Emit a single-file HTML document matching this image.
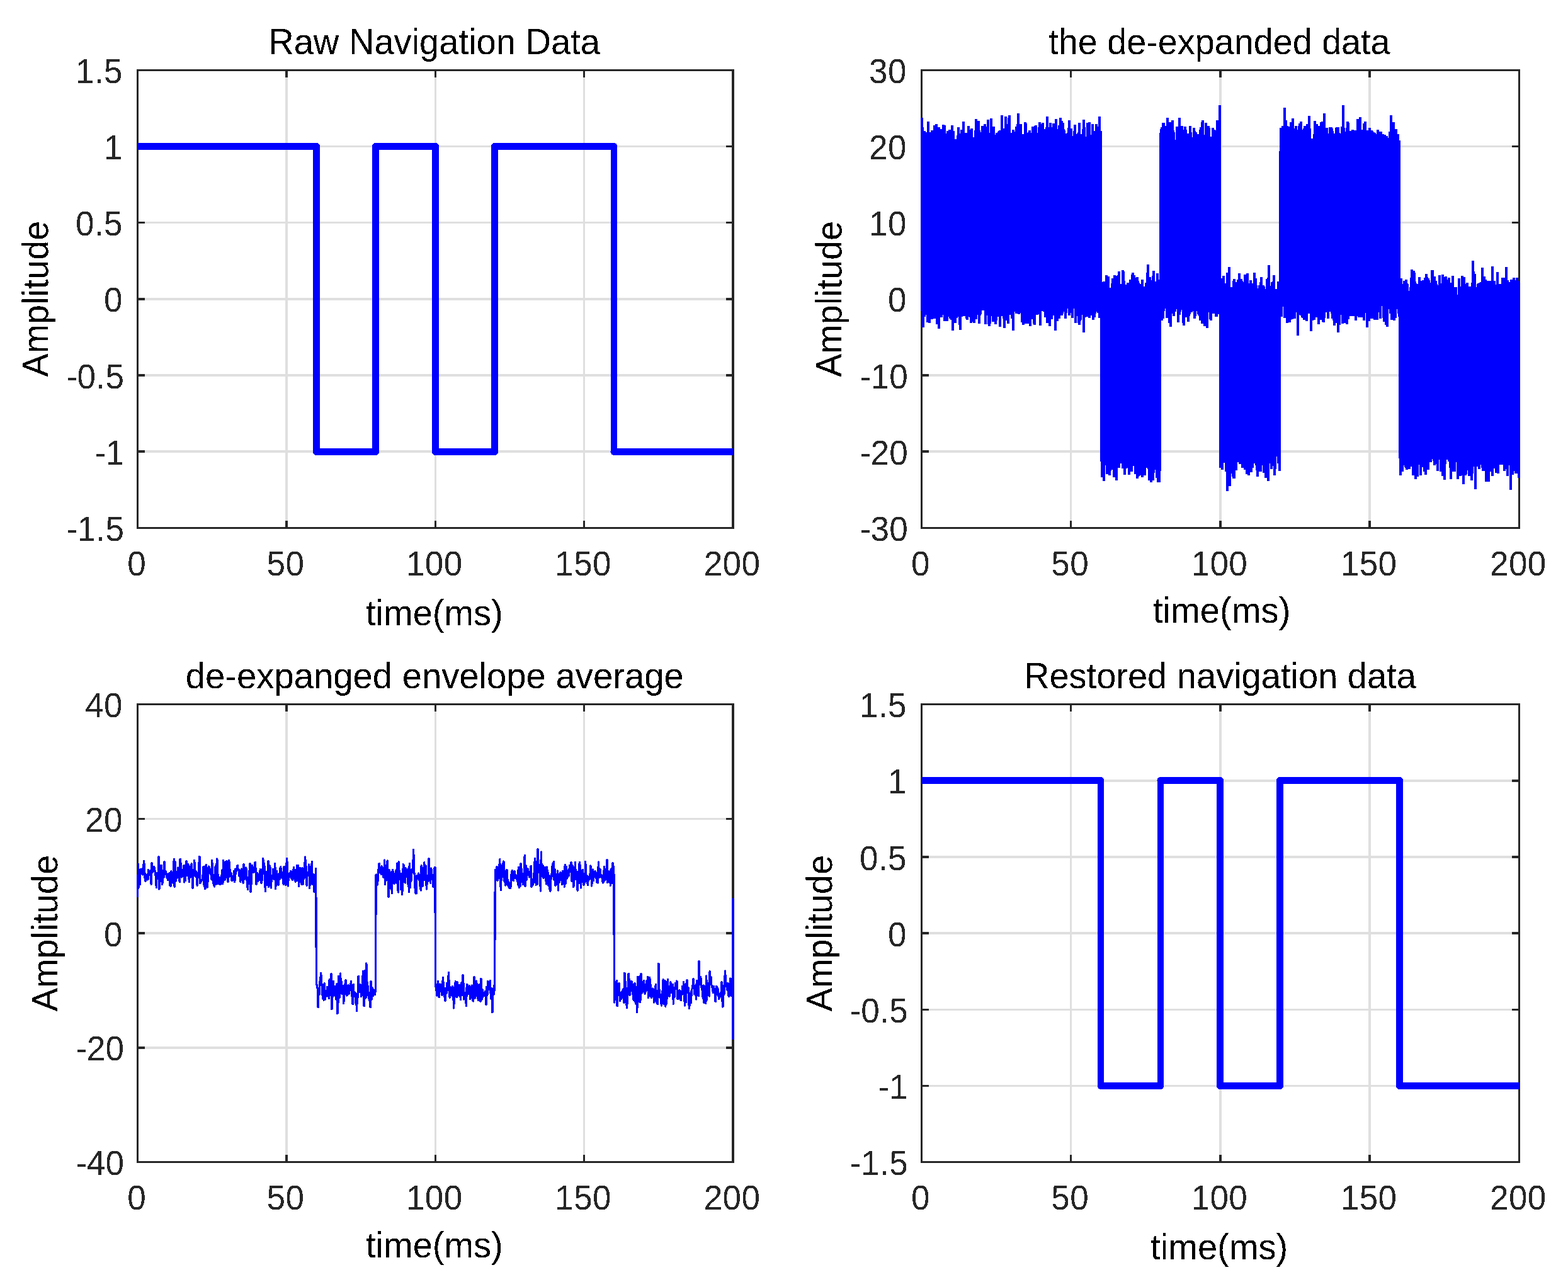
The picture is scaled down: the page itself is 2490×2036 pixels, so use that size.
<!DOCTYPE html>
<html lang="en">
<head>
<meta charset="utf-8">
<title>Navigation data de-expansion</title>
<style>
html,body{margin:0;padding:0;background:#fff;}
body{width:2490px;height:2036px;overflow:hidden;}
svg{display:block;font-family:'Liberation Sans', 'DejaVu Sans', sans-serif;}
</style>
</head>
<body>
<svg width="2490" height="2036" viewBox="0 0 2490 2036">
<rect width="2490" height="2036" fill="#fff"/>
<defs><clipPath id="c0"><rect x="218" y="111" width="947" height="728"/></clipPath><clipPath id="c1"><rect x="1462" y="111" width="952" height="728"/></clipPath><clipPath id="c2"><rect x="217" y="1118" width="949" height="728"/></clipPath><clipPath id="c3"><rect x="1463" y="1118" width="950" height="728"/></clipPath><filter id="hard" filterUnits="userSpaceOnUse" x="0" y="0" width="2490" height="2036" color-interpolation-filters="sRGB"><feComponentTransfer><feFuncA type="discrete" tableValues="0 1"/></feComponentTransfer></filter></defs>
<g shape-rendering="crispEdges"><path fill="#dfdfdf" d="M453 110h4v730h-4zM690 110h3v730h-3zM926 110h3v730h-3zM217 715h949v4h-949zM217 594h949v4h-949zM217 473h949v4h-949zM217 352h949v3h-949zM217 231h949v3h-949z"/><path fill="#262626" d="M217 110h3v730h-3zM1162 110h4v730h-4zM217 110h949v3h-949zM217 837h949v3h-949zM453 110h4v13h-4zM453 827h4v13h-4zM690 110h3v13h-3zM690 827h3v13h-3zM926 110h3v13h-3zM926 827h3v13h-3zM217 715h13v4h-13zM1153 715h13v4h-13zM217 594h13v4h-13zM1153 594h13v4h-13zM217 473h13v4h-13zM1153 473h13v4h-13zM217 352h13v3h-13zM1153 352h13v3h-13zM217 231h13v3h-13zM1153 231h13v3h-13z"/><g clip-path="url(#c0)"><g fill="none" stroke="#0000ff" stroke-linecap="round"><path stroke-width="11" d="M198.59 232.5H502.5"/><path stroke-width="11" d="M502.5 232.5V717.5"/><path stroke-width="11" d="M502.5 717.5H596.5"/><path stroke-width="11" d="M596.5 717.5V232.5"/><path stroke-width="11" d="M596.5 232.5H691.5"/><path stroke-width="11" d="M691.5 232.5V717.5"/><path stroke-width="11" d="M691.5 717.5H785.5"/><path stroke-width="11" d="M785.5 717.5V232.5"/><path stroke-width="11" d="M785.5 232.5H975"/><path stroke-width="10" d="M975 232.5V717.5"/><path stroke-width="11" d="M975 717.5H1184.03"/></g></g></g>
<g shape-rendering="crispEdges"><path fill="#dfdfdf" d="M1699 110h3v730h-3zM1936 110h4v730h-4zM2173 110h4v730h-4zM1462 715h952v4h-952zM1462 594h952v4h-952zM1462 473h952v4h-952zM1462 352h952v3h-952zM1462 231h952v3h-952z"/><path fill="#262626" d="M1462 110h3v730h-3zM2411 110h3v730h-3zM1462 110h952v3h-952zM1462 837h952v3h-952zM1699 110h3v13h-3zM1699 827h3v13h-3zM1936 110h4v13h-4zM1936 827h4v13h-4zM2173 110h4v13h-4zM2173 827h4v13h-4zM1462 715h13v4h-13zM2401 715h13v4h-13zM1462 594h13v4h-13zM2401 594h13v4h-13zM1462 473h13v4h-13zM2401 473h13v4h-13zM1462 352h13v3h-13zM2401 352h13v3h-13zM1462 231h13v3h-13zM2401 231h13v3h-13z"/><g clip-path="url(#c1)"><path d="M1463.5 188V188H1464.5V203H1465.5V228H1466.5V214H1467.5V209H1468.5V219H1469.5V229H1470.5V211H1471.5V227H1472.5V214H1473.5V194H1474.5V220H1475.5V231H1476.5V211H1477.5V214H1478.5V232H1479.5V208H1480.5V225H1481.5V222H1482.5V216H1483.5V200H1484.5V218H1485.5V224H1486.5V198H1487.5V220H1488.5V210H1489.5V219H1490.5V203H1491.5V212H1492.5V206H1493.5V207H1494.5V218H1495.5V206H1496.5V227H1497.5V199H1498.5V228H1499.5V200H1500.5V222H1501.5V213H1502.5V219H1503.5V215H1504.5V209H1505.5V216H1506.5V233H1507.5V207H1508.5V222H1509.5V214H1510.5V223H1511.5V200H1512.5V209H1513.5V209H1514.5V233H1515.5V222H1516.5V229H1517.5V230H1518.5V223H1519.5V222H1520.5V216H1521.5V203H1522.5V215H1523.5V223H1524.5V217H1525.5V213H1526.5V207H1527.5V215H1528.5V214H1529.5V194H1530.5V225H1531.5V222H1532.5V221H1533.5V212H1534.5V221H1535.5V212H1536.5V227H1537.5V201H1538.5V231H1539.5V220H1540.5V207H1541.5V220H1542.5V205H1543.5V221H1544.5V229H1545.5V223H1546.5V219H1547.5V230H1548.5V208H1549.5V190H1550.5V210H1551.5V202H1552.5V217H1553.5V193H1554.5V208H1555.5V215H1556.5V211H1557.5V220H1558.5V212H1559.5V201H1560.5V215H1561.5V215H1562.5V214H1563.5V198H1564.5V232H1565.5V228H1566.5V202H1567.5V203H1568.5V191H1569.5V218H1570.5V212H1571.5V228H1572.5V219H1573.5V189H1574.5V233H1575.5V210H1576.5V213H1577.5V202H1578.5V232H1579.5V215H1580.5V224H1581.5V233H1582.5V212H1583.5V229H1584.5V222H1585.5V210H1586.5V209H1587.5V208H1588.5V212H1589.5V219H1590.5V184H1591.5V209H1592.5V205H1593.5V205H1594.5V214H1595.5V206H1596.5V186H1597.5V225H1598.5V198H1599.5V203H1600.5V222H1601.5V188H1602.5V184H1603.5V231H1604.5V212H1605.5V229H1606.5V219H1607.5V225H1608.5V207H1609.5V225H1610.5V210H1611.5V220H1612.5V233H1613.5V202H1614.5V203H1615.5V198H1616.5V181H1617.5V207H1618.5V221H1619.5V205H1620.5V198H1621.5V218H1622.5V220H1623.5V231H1624.5V214H1625.5V227H1626.5V217H1627.5V195H1628.5V197H1629.5V217H1630.5V212H1631.5V238H1632.5V240H1633.5V211H1634.5V208H1635.5V221H1636.5V218H1637.5V212H1638.5V213H1639.5V202H1640.5V227H1641.5V215H1642.5V238H1643.5V201H1644.5V200H1645.5V212H1646.5V227H1647.5V214H1648.5V212H1649.5V203H1650.5V195H1651.5V222H1652.5V207H1653.5V213H1654.5V198H1655.5V196H1656.5V211H1657.5V206H1658.5V226H1659.5V206H1660.5V217H1661.5V203H1662.5V186H1663.5V219H1664.5V220H1665.5V203H1666.5V210H1667.5V196H1668.5V208H1669.5V208H1670.5V231H1671.5V203H1672.5V197H1673.5V205H1674.5V212H1675.5V219H1676.5V190H1677.5V213H1678.5V206H1679.5V211H1680.5V228H1681.5V200H1682.5V208H1683.5V188H1684.5V199H1685.5V193H1686.5V216H1687.5V196H1688.5V206H1689.5V208H1690.5V228H1691.5V230H1692.5V219H1693.5V213H1694.5V228H1695.5V212H1696.5V204H1697.5V192H1698.5V217H1699.5V216H1700.5V205H1701.5V218H1702.5V217H1703.5V220H1704.5V227H1705.5V209H1706.5V199H1707.5V214H1708.5V218H1709.5V216H1710.5V223H1711.5V213H1712.5V211H1713.5V196H1714.5V225H1715.5V214H1716.5V227H1717.5V214H1718.5V217H1719.5V206H1720.5V191H1721.5V203H1722.5V225H1723.5V222H1724.5V218H1725.5V226H1726.5V196H1727.5V201H1728.5V206H1729.5V195H1730.5V219H1731.5V236H1732.5V215H1733.5V220H1734.5V198H1735.5V212H1736.5V223H1737.5V209H1738.5V223H1739.5V224H1740.5V198H1741.5V210H1742.5V202H1743.5V215H1744.5V222H1745.5V186H1746.5V234H1747.5V209H1748.5V458H1749.5V449H1750.5V464H1751.5V472H1752.5V448H1753.5V459H1754.5V455H1755.5V458H1756.5V438H1757.5V451H1758.5V462H1759.5V440H1760.5V458H1761.5V470H1762.5V477H1763.5V458H1764.5V459H1765.5V451H1766.5V443H1767.5V448H1768.5V471H1769.5V438H1770.5V452H1771.5V439H1772.5V442H1773.5V459H1774.5V452H1775.5V438H1776.5V432H1777.5V458H1778.5V467H1779.5V452H1780.5V468H1781.5V458H1782.5V430H1783.5V432H1784.5V447H1785.5V470H1786.5V453H1787.5V464H1788.5V454H1789.5V470H1790.5V450H1791.5V452H1792.5V450H1793.5V468H1794.5V445H1795.5V473H1796.5V472H1797.5V437H1798.5V434H1799.5V455H1800.5V438H1801.5V463H1802.5V459H1803.5V447H1804.5V442H1805.5V441H1806.5V447H1807.5V450H1808.5V475H1809.5V452H1810.5V460H1811.5V457H1812.5V459H1813.5V445H1814.5V465H1815.5V467H1816.5V456H1817.5V464H1818.5V463H1819.5V450H1820.5V463H1821.5V434H1822.5V421H1823.5V466H1824.5V473H1825.5V441H1826.5V462H1827.5V455H1828.5V450H1829.5V446H1830.5V439H1831.5V431H1832.5V459H1833.5V455H1834.5V448H1835.5V458H1836.5V455H1837.5V435H1838.5V455H1839.5V445H1840.5V453H1841.5V463H1842.5V212H1843.5V206H1844.5V203H1845.5V229H1846.5V196H1847.5V196H1848.5V213H1849.5V210H1850.5V208H1851.5V201H1852.5V201H1853.5V188H1854.5V210H1855.5V207H1856.5V196H1857.5V195H1858.5V208H1859.5V217H1860.5V205H1861.5V192H1862.5V208H1863.5V211H1864.5V223H1865.5V224H1866.5V228H1867.5V224H1868.5V202H1869.5V217H1870.5V216H1871.5V214H1872.5V188H1873.5V203H1874.5V206H1875.5V216H1876.5V201H1877.5V213H1878.5V218H1879.5V220H1880.5V207H1881.5V202H1882.5V207H1883.5V215H1884.5V216H1885.5V226H1886.5V213H1887.5V218H1888.5V218H1889.5V201H1890.5V211H1891.5V225H1892.5V226H1893.5V219H1894.5V219H1895.5V204H1896.5V209H1897.5V227H1898.5V211H1899.5V226H1900.5V229H1901.5V214H1902.5V231H1903.5V224H1904.5V222H1905.5V207H1906.5V203H1907.5V225H1908.5V195H1909.5V192H1910.5V220H1911.5V216H1912.5V215H1913.5V217H1914.5V196H1915.5V208H1916.5V204H1917.5V216H1918.5V201H1919.5V204H1920.5V225H1921.5V223H1922.5V220H1923.5V218H1924.5V221H1925.5V204H1926.5V236H1927.5V207H1928.5V220H1929.5V215H1930.5V223H1931.5V208H1932.5V192H1933.5V230H1934.5V219H1935.5V224H1936.5V168H1937.5V456H1938.5V458H1939.5V443H1940.5V458H1941.5V450H1942.5V439H1943.5V455H1944.5V469H1945.5V451H1946.5V464H1947.5V473H1948.5V434H1949.5V453H1950.5V456H1951.5V425H1952.5V460H1953.5V459H1954.5V457H1955.5V470H1956.5V474H1957.5V458H1958.5V447H1959.5V444H1960.5V455H1961.5V459H1962.5V449H1963.5V456H1964.5V468H1965.5V445H1966.5V448H1967.5V435H1968.5V449H1969.5V461H1970.5V444H1971.5V447H1972.5V449H1973.5V466H1974.5V452H1975.5V451H1976.5V437H1977.5V487H1978.5V460H1979.5V454H1980.5V435H1981.5V457H1982.5V458H1983.5V462H1984.5V451H1985.5V446H1986.5V461H1987.5V451H1988.5V481H1989.5V460H1990.5V462H1991.5V434H1992.5V471H1993.5V443H1994.5V454H1995.5V466H1996.5V465H1997.5V463H1998.5V459H1999.5V454H2000.5V462H2001.5V449H2002.5V441H2003.5V462H2004.5V459H2005.5V454H2006.5V456H2007.5V460H2008.5V470H2009.5V462H2010.5V462H2011.5V444H2012.5V444H2013.5V442H2014.5V422H2015.5V455H2016.5V459H2017.5V461H2018.5V461H2019.5V449H2020.5V458H2021.5V448H2022.5V438H2023.5V479H2024.5V468H2025.5V464H2026.5V460H2027.5V470H2028.5V474H2029.5V448H2030.5V457H2031.5V474H2032.5V241H2033.5V204H2034.5V216H2035.5V205H2036.5V201H2037.5V220H2038.5V210H2039.5V172H2040.5V206H2041.5V192H2042.5V230H2043.5V201H2044.5V211H2045.5V226H2046.5V202H2047.5V212H2048.5V219H2049.5V195H2050.5V204H2051.5V198H2052.5V189H2053.5V217H2054.5V205H2055.5V221H2056.5V213H2057.5V201H2058.5V215H2059.5V224H2060.5V215H2061.5V207H2062.5V201H2063.5V197H2064.5V205H2065.5V194H2066.5V207H2067.5V209H2068.5V209H2069.5V214H2070.5V205H2071.5V201H2072.5V206H2073.5V215H2074.5V202H2075.5V198H2076.5V215H2077.5V227H2078.5V185H2079.5V205H2080.5V224H2081.5V229H2082.5V221H2083.5V227H2084.5V230H2085.5V225H2086.5V214H2087.5V193H2088.5V209H2089.5V218H2090.5V198H2091.5V215H2092.5V212H2093.5V223H2094.5V201H2095.5V215H2096.5V212H2097.5V195H2098.5V212H2099.5V194H2100.5V219H2101.5V215H2102.5V181H2103.5V206H2104.5V217H2105.5V214H2106.5V204H2107.5V221H2108.5V213H2109.5V222H2110.5V214H2111.5V203H2112.5V218H2113.5V203H2114.5V205H2115.5V209H2116.5V227H2117.5V213H2118.5V228H2119.5V214H2120.5V222H2121.5V204H2122.5V203H2123.5V216H2124.5V203H2125.5V212H2126.5V225H2127.5V222H2128.5V217H2129.5V213H2130.5V202H2131.5V207H2132.5V168H2133.5V204H2134.5V221H2135.5V222H2136.5V210H2137.5V218H2138.5V204H2139.5V194H2140.5V196H2141.5V222H2142.5V219H2143.5V209H2144.5V226H2145.5V224H2146.5V221H2147.5V207H2148.5V232H2149.5V214H2150.5V228H2151.5V208H2152.5V215H2153.5V223H2154.5V238H2155.5V190H2156.5V212H2157.5V193H2158.5V215H2159.5V187H2160.5V222H2161.5V214H2162.5V207H2163.5V226H2164.5V226H2165.5V197H2166.5V213H2167.5V194H2168.5V218H2169.5V210H2170.5V224H2171.5V208H2172.5V217H2173.5V220H2174.5V204H2175.5V220H2176.5V221H2177.5V208H2178.5V209H2179.5V229H2180.5V211H2181.5V214H2182.5V212H2183.5V227H2184.5V214H2185.5V221H2186.5V225H2187.5V207H2188.5V225H2189.5V210H2190.5V214H2191.5V222H2192.5V210H2193.5V223H2194.5V236H2195.5V214H2196.5V224H2197.5V232H2198.5V215H2199.5V227H2200.5V232H2201.5V217H2202.5V225H2203.5V222H2204.5V227H2205.5V220H2206.5V210H2207.5V228H2208.5V184H2209.5V218H2210.5V223H2211.5V222H2212.5V195H2213.5V207H2214.5V220H2215.5V218H2216.5V206H2217.5V230H2218.5V214H2219.5V214H2220.5V224H2221.5V224H2222.5V446H2223.5V470H2224.5V443H2225.5V453H2226.5V452H2227.5V469H2228.5V453H2229.5V447H2230.5V460H2231.5V453H2232.5V445H2233.5V451H2234.5V452H2235.5V464H2236.5V463H2237.5V476H2238.5V464H2239.5V457H2240.5V442H2241.5V429H2242.5V459H2243.5V453H2244.5V431H2245.5V434H2246.5V448H2247.5V451H2248.5V458H2249.5V459H2250.5V453H2251.5V452H2252.5V459H2253.5V441H2254.5V457H2255.5V473H2256.5V447H2257.5V456H2258.5V456H2259.5V446H2260.5V451H2261.5V454H2262.5V442H2263.5V452H2264.5V436H2265.5V441H2266.5V472H2267.5V443H2268.5V446H2269.5V466H2270.5V462H2271.5V467H2272.5V450H2273.5V430H2274.5V430H2275.5V465H2276.5V463H2277.5V440H2278.5V458H2279.5V447H2280.5V452H2281.5V463H2282.5V455H2283.5V454H2284.5V462H2285.5V438H2286.5V464H2287.5V451H2288.5V455H2289.5V453H2290.5V437H2291.5V459H2292.5V441H2293.5V480H2294.5V468H2295.5V440H2296.5V478H2297.5V468H2298.5V445H2299.5V469H2300.5V442H2301.5V453H2302.5V463H2303.5V460H2304.5V450H2305.5V460H2306.5V439H2307.5V457H2308.5V459H2309.5V457H2310.5V462H2311.5V457H2312.5V472H2313.5V477H2314.5V471H2315.5V469H2316.5V443H2317.5V465H2318.5V459H2319.5V477H2320.5V456H2321.5V439H2322.5V472H2323.5V455H2324.5V441H2325.5V473H2326.5V452H2327.5V454H2328.5V481H2329.5V450H2330.5V470H2331.5V469H2332.5V464H2333.5V456H2334.5V458H2335.5V456H2336.5V461H2337.5V450H2338.5V415H2339.5V432H2340.5V458H2341.5V436H2342.5V470H2343.5V481H2344.5V458H2345.5V457H2346.5V452H2347.5V451H2348.5V466H2349.5V450H2350.5V479H2351.5V449H2352.5V462H2353.5V426H2354.5V453H2355.5V472H2356.5V440H2357.5V456H2358.5V445H2359.5V466H2360.5V451H2361.5V447H2362.5V470H2363.5V464H2364.5V453H2365.5V447H2366.5V467H2367.5V462H2368.5V466H2369.5V424H2370.5V460H2371.5V453H2372.5V447H2373.5V471H2374.5V465H2375.5V453H2376.5V476H2377.5V433H2378.5V453H2379.5V452H2380.5V460H2381.5V459H2382.5V467H2383.5V452H2384.5V464H2385.5V442H2386.5V460H2387.5V442H2388.5V445H2389.5V447H2390.5V449H2391.5V425H2392.5V470H2393.5V446H2394.5V463H2395.5V449H2396.5V461H2397.5V457H2398.5V450H2399.5V445H2400.5V461H2401.5V457H2402.5V446H2403.5V442H2404.5V466H2405.5V446H2406.5V471H2407.5V456H2408.5V442H2409.5V447H2410.5V447H2411.5V450H2412.5V757H2411.5V733H2410.5V750H2409.5V733H2408.5V746H2407.5V750H2406.5V729H2405.5V718H2404.5V744H2403.5V746H2402.5V752H2401.5V736H2400.5V750H2399.5V776H2398.5V737H2397.5V732H2396.5V729H2395.5V731H2394.5V754H2393.5V743H2392.5V729H2391.5V730H2390.5V736H2389.5V746H2388.5V733H2387.5V736H2386.5V734H2385.5V730H2384.5V730H2383.5V736H2382.5V731H2381.5V728H2380.5V723H2379.5V750H2378.5V734H2377.5V737H2376.5V749H2375.5V730H2374.5V742H2373.5V741H2372.5V722H2371.5V741H2370.5V754H2369.5V742H2368.5V734H2367.5V746H2366.5V747H2365.5V744H2364.5V763H2363.5V728H2362.5V729H2361.5V726H2360.5V763H2359.5V746H2358.5V744H2357.5V742H2356.5V734H2355.5V746H2354.5V741H2353.5V721H2352.5V736H2351.5V722H2350.5V734H2349.5V743H2348.5V735H2347.5V739H2346.5V732H2345.5V735H2344.5V729H2343.5V775H2342.5V739H2341.5V730H2340.5V737H2339.5V730H2338.5V750H2337.5V761H2336.5V730H2335.5V719H2334.5V747H2333.5V754H2332.5V737H2331.5V745H2330.5V732H2329.5V732H2328.5V751H2327.5V753H2326.5V744H2325.5V732H2324.5V767H2323.5V741H2322.5V753H2321.5V705H2320.5V745H2319.5V754H2318.5V736H2317.5V747H2316.5V726H2315.5V759H2314.5V732H2313.5V727H2312.5V730H2311.5V722H2310.5V747H2309.5V739H2308.5V745H2307.5V747H2306.5V746H2305.5V730H2304.5V759H2303.5V741H2302.5V726H2301.5V731H2300.5V719H2299.5V728H2298.5V718H2297.5V721H2296.5V715H2295.5V735H2294.5V760H2293.5V743H2292.5V744H2291.5V754H2290.5V731H2289.5V737H2288.5V747H2287.5V728H2286.5V716H2285.5V720H2284.5V722H2283.5V746H2282.5V727H2281.5V735H2280.5V724H2279.5V731H2278.5V737H2277.5V730H2276.5V727H2275.5V725H2274.5V709H2273.5V721H2272.5V732H2271.5V729H2270.5V730H2269.5V723H2268.5V744H2267.5V725H2266.5V727H2265.5V733H2264.5V752H2263.5V732H2262.5V747H2261.5V726H2260.5V740H2259.5V740H2258.5V735H2257.5V738H2256.5V753H2255.5V736H2254.5V733H2253.5V735H2252.5V734H2251.5V755H2250.5V736H2249.5V726H2248.5V759H2247.5V728H2246.5V749H2245.5V746H2244.5V753H2243.5V734H2242.5V737H2241.5V719H2240.5V739H2239.5V731H2238.5V743H2237.5V724H2236.5V729H2235.5V732H2234.5V744H2233.5V741H2232.5V740H2231.5V726H2230.5V732H2229.5V737H2228.5V730H2227.5V747H2226.5V737H2225.5V736H2224.5V753H2223.5V726H2222.5V501H2221.5V496H2220.5V478H2219.5V489H2218.5V489H2217.5V484H2216.5V503H2215.5V499H2214.5V507H2213.5V490H2212.5V482H2211.5V488H2210.5V506H2209.5V491H2208.5V496H2207.5V485H2206.5V489H2205.5V472H2204.5V489H2203.5V517H2202.5V477H2201.5V514H2200.5V495H2199.5V503H2198.5V509H2197.5V503H2196.5V482H2195.5V478H2194.5V482H2193.5V484H2192.5V504H2191.5V494H2190.5V488H2189.5V484H2188.5V489H2187.5V506H2186.5V486H2185.5V488H2184.5V499H2183.5V506H2182.5V491H2181.5V496H2180.5V498H2179.5V504H2178.5V503H2177.5V504H2176.5V479H2175.5V498H2174.5V508H2173.5V497H2172.5V485H2171.5V518H2170.5V494H2169.5V492H2168.5V495H2167.5V483H2166.5V507H2165.5V490H2164.5V493H2163.5V498H2162.5V502H2161.5V477H2160.5V496H2159.5V489H2158.5V502H2157.5V500H2156.5V490H2155.5V482H2154.5V488H2153.5V507H2152.5V489H2151.5V493H2150.5V493H2149.5V500H2148.5V499H2147.5V498H2146.5V494H2145.5V500H2144.5V487H2143.5V499H2142.5V498H2141.5V505H2140.5V499H2139.5V513H2138.5V486H2137.5V499H2136.5V511H2135.5V502H2134.5V491H2133.5V483H2132.5V512H2131.5V495H2130.5V498H2129.5V484H2128.5V484H2127.5V514H2126.5V509H2125.5V526H2124.5V475H2123.5V497H2122.5V483H2121.5V511H2120.5V502H2119.5V515H2118.5V507H2117.5V487H2116.5V504H2115.5V496H2114.5V489H2113.5V481H2112.5V493H2111.5V490H2110.5V490H2109.5V504H2108.5V490H2107.5V494H2106.5V482H2105.5V493H2104.5V489H2103.5V503H2102.5V510H2101.5V509H2100.5V504H2099.5V501H2098.5V491H2097.5V506H2096.5V492H2095.5V499H2094.5V513H2093.5V502H2092.5V487H2091.5V486H2090.5V502H2089.5V471H2088.5V502H2087.5V506H2086.5V492H2085.5V493H2084.5V507H2083.5V501H2082.5V524H2081.5V494H2080.5V489H2079.5V496H2078.5V493H2077.5V483H2076.5V494H2075.5V508H2074.5V479H2073.5V506H2072.5V492H2071.5V506H2070.5V472H2069.5V503H2068.5V502H2067.5V480H2066.5V499H2065.5V474H2064.5V480H2063.5V490H2062.5V498H2061.5V531H2060.5V484H2059.5V494H2058.5V476H2057.5V473H2056.5V504H2055.5V484H2054.5V481H2053.5V499H2052.5V505H2051.5V479H2050.5V495H2049.5V506H2048.5V510H2047.5V476H2046.5V504H2045.5V487H2044.5V511H2043.5V499H2042.5V497H2041.5V483H2040.5V503H2039.5V484H2038.5V485H2037.5V472H2036.5V480H2035.5V501H2034.5V493H2033.5V489H2032.5V746H2031.5V724H2030.5V734H2029.5V723H2028.5V715H2027.5V723H2026.5V709H2025.5V743H2024.5V753H2023.5V734H2022.5V724H2021.5V738H2020.5V734H2019.5V743H2018.5V731H2017.5V726H2016.5V734H2015.5V723H2014.5V762H2013.5V747H2012.5V733H2011.5V724H2010.5V757H2009.5V741H2008.5V747H2007.5V749H2006.5V732H2005.5V724H2004.5V737H2003.5V736H2002.5V747H2001.5V747H2000.5V742H1999.5V744H1998.5V724H1997.5V755H1996.5V745H1995.5V737H1994.5V732H1993.5V734H1992.5V721H1991.5V720H1990.5V728H1989.5V741H1988.5V730H1987.5V748H1986.5V733H1985.5V730H1984.5V730H1983.5V753H1982.5V741H1981.5V733H1980.5V751H1979.5V724H1978.5V742H1977.5V744H1976.5V733H1975.5V732H1974.5V737H1973.5V741H1972.5V734H1971.5V729H1970.5V734H1969.5V735H1968.5V713H1967.5V732H1966.5V725H1965.5V732H1964.5V722H1963.5V745H1962.5V733H1961.5V727H1960.5V758H1959.5V758H1958.5V755H1957.5V750H1956.5V739H1955.5V722H1954.5V728H1953.5V770H1952.5V721H1951.5V731H1950.5V734H1949.5V778H1948.5V731H1947.5V747H1946.5V725H1945.5V732H1944.5V727H1943.5V733H1942.5V732H1941.5V744H1940.5V730H1939.5V725H1938.5V741H1937.5V496H1936.5V496H1935.5V497H1934.5V493H1933.5V494H1932.5V501H1931.5V501H1930.5V496H1929.5V477H1928.5V496H1927.5V493H1926.5V496H1925.5V484H1924.5V479H1923.5V507H1922.5V505H1921.5V494H1920.5V474H1919.5V486H1918.5V489H1917.5V519H1916.5V514H1915.5V514H1914.5V506H1913.5V516H1912.5V508H1911.5V502H1910.5V502H1909.5V512H1908.5V481H1907.5V493H1906.5V507H1905.5V500H1904.5V498H1903.5V497H1902.5V472H1901.5V478H1900.5V492H1899.5V476H1898.5V500H1897.5V504H1896.5V492H1895.5V484H1894.5V483H1893.5V484H1892.5V494H1891.5V486H1890.5V494H1889.5V497H1888.5V500H1887.5V509H1886.5V485H1885.5V475H1884.5V502H1883.5V502H1882.5V493H1881.5V490H1880.5V515H1879.5V511H1878.5V482H1877.5V479H1876.5V478H1875.5V490H1874.5V493H1873.5V498H1872.5V495H1871.5V510H1870.5V489H1869.5V482H1868.5V488H1867.5V477H1866.5V493H1865.5V489H1864.5V500H1863.5V493H1862.5V496H1861.5V487H1860.5V484H1859.5V517H1858.5V489H1857.5V511H1856.5V500H1855.5V494H1854.5V497H1853.5V503H1852.5V487H1851.5V484H1850.5V488H1849.5V484H1848.5V492H1847.5V504H1846.5V487H1845.5V507H1844.5V474H1843.5V497H1842.5V746H1841.5V764H1840.5V738H1839.5V764H1838.5V751H1837.5V757H1836.5V744H1835.5V717H1834.5V713H1833.5V732H1832.5V749H1831.5V761H1830.5V744H1829.5V733H1828.5V764H1827.5V729H1826.5V740H1825.5V761H1824.5V743H1823.5V726H1822.5V737H1821.5V730H1820.5V741H1819.5V739H1818.5V753H1817.5V737H1816.5V735H1815.5V743H1814.5V756H1813.5V734H1812.5V753H1811.5V749H1810.5V710H1809.5V731H1808.5V754H1807.5V755H1806.5V758H1805.5V730H1804.5V748H1803.5V751H1802.5V733H1801.5V721H1800.5V731H1799.5V738H1798.5V736H1797.5V747H1796.5V734H1795.5V723H1794.5V734H1793.5V752H1792.5V736H1791.5V741H1790.5V730H1789.5V730H1788.5V742H1787.5V738H1786.5V752H1785.5V719H1784.5V718H1783.5V742H1782.5V714H1781.5V721H1780.5V734H1779.5V716H1778.5V721H1777.5V741H1776.5V722H1775.5V729H1774.5V718H1773.5V761H1772.5V726H1771.5V734H1770.5V716H1769.5V756H1768.5V741H1767.5V729H1766.5V717H1765.5V744H1764.5V737H1763.5V746H1762.5V753H1761.5V742H1760.5V740H1759.5V746H1758.5V751H1757.5V732H1756.5V737H1755.5V730H1754.5V736H1753.5V762H1752.5V746H1751.5V727H1750.5V756H1749.5V731H1748.5V486H1747.5V486H1746.5V503H1745.5V491H1744.5V495H1743.5V487H1742.5V493H1741.5V479H1740.5V492H1739.5V496H1738.5V502H1737.5V494H1736.5V506H1735.5V498H1734.5V493H1733.5V495H1732.5V499H1731.5V490H1730.5V503H1729.5V468H1728.5V499H1727.5V500H1726.5V501H1725.5V496H1724.5V495H1723.5V502H1722.5V498H1721.5V526H1720.5V479H1719.5V485H1718.5V498H1717.5V484H1716.5V506H1715.5V508H1714.5V514H1713.5V511H1712.5V474H1711.5V485H1710.5V500H1709.5V496H1708.5V511H1707.5V470H1706.5V488H1705.5V488H1704.5V488H1703.5V503H1702.5V482H1701.5V495H1700.5V493H1699.5V490H1698.5V499H1697.5V480H1696.5V479H1695.5V482H1694.5V488H1693.5V495H1692.5V504H1691.5V493H1690.5V484H1689.5V493H1688.5V491H1687.5V496H1686.5V499H1685.5V485H1684.5V494H1683.5V494H1682.5V504H1681.5V499H1680.5V500H1679.5V508H1678.5V497H1677.5V492H1676.5V523H1675.5V484H1674.5V499H1673.5V481H1672.5V485H1671.5V498H1670.5V505H1669.5V499H1668.5V488H1667.5V516H1666.5V501H1665.5V505H1664.5V499H1663.5V511H1662.5V484H1661.5V489H1660.5V502H1659.5V478H1658.5V493H1657.5V488H1656.5V492H1655.5V476H1654.5V490H1653.5V479H1652.5V515H1651.5V492H1650.5V497H1649.5V471H1648.5V494H1647.5V498H1646.5V492H1645.5V489H1644.5V483H1643.5V514H1642.5V512H1641.5V502H1640.5V488H1639.5V499H1638.5V505H1637.5V491H1636.5V516H1635.5V491H1634.5V488H1633.5V492H1632.5V512H1631.5V493H1630.5V497H1629.5V512H1628.5V485H1627.5V489H1626.5V488H1625.5V514H1624.5V496H1623.5V510H1622.5V474H1621.5V487H1620.5V477H1619.5V495H1618.5V497H1617.5V496H1616.5V481H1615.5V490H1614.5V496H1613.5V482H1612.5V477H1611.5V493H1610.5V487H1609.5V523H1608.5V491H1607.5V504H1606.5V487H1605.5V498H1604.5V492H1603.5V491H1602.5V495H1601.5V512H1600.5V498H1599.5V501H1598.5V507H1597.5V496H1596.5V503H1595.5V519H1594.5V504H1593.5V478H1592.5V500H1591.5V477H1590.5V491H1589.5V496H1588.5V517H1587.5V501H1586.5V486H1585.5V501H1584.5V490H1583.5V478H1582.5V507H1581.5V513H1580.5V492H1579.5V490H1578.5V472H1577.5V509H1576.5V488H1575.5V474H1574.5V484H1573.5V500H1572.5V512H1571.5V516H1570.5V513H1569.5V489H1568.5V499H1567.5V492H1566.5V498H1565.5V513H1564.5V486H1563.5V490H1562.5V477H1561.5V491H1560.5V476H1559.5V489H1558.5V485H1557.5V497H1556.5V499H1555.5V512H1554.5V498H1553.5V493H1552.5V482H1551.5V494H1550.5V505H1549.5V485H1548.5V490H1547.5V511H1546.5V492H1545.5V504H1544.5V474H1543.5V509H1542.5V511H1541.5V502H1540.5V487H1539.5V494H1538.5V486H1537.5V501H1536.5V506H1535.5V504H1534.5V484H1533.5V477H1532.5V492H1531.5V500H1530.5V477H1529.5V491H1528.5V483H1527.5V501H1526.5V478H1525.5V522H1524.5V514H1523.5V492H1522.5V497H1521.5V501H1520.5V501H1519.5V503H1518.5V496H1517.5V511H1516.5V491H1515.5V488H1514.5V507H1513.5V523H1512.5V502H1511.5V506H1510.5V501H1509.5V504H1508.5V488H1507.5V501H1506.5V493H1505.5V494H1504.5V508H1503.5V505H1502.5V483H1501.5V495H1500.5V508H1499.5V480H1498.5V498H1497.5V494H1496.5V492H1495.5V502H1494.5V494H1493.5V479H1492.5V484H1491.5V520H1490.5V497H1489.5V491H1488.5V513H1487.5V500H1486.5V492H1485.5V501H1484.5V504H1483.5V483H1482.5V485H1481.5V496H1480.5V505H1479.5V499H1478.5V497H1477.5V492H1476.5V511H1475.5V493H1474.5V486H1473.5V510H1472.5V494H1471.5V481H1470.5V498H1469.5V486H1468.5V501H1467.5V489H1466.5V518H1465.5V508H1464.5V492H1463.5Z" fill="#0000ff" stroke="#0000ff" stroke-width="3" stroke-linejoin="miter"/></g></g>
<g shape-rendering="crispEdges"><path fill="#dfdfdf" d="M453 1117h4v730h-4zM690 1117h3v730h-3zM926 1117h3v730h-3zM217 1662h949v4h-949zM217 1480h949v4h-949zM217 1299h949v3h-949z"/><path fill="#262626" d="M217 1117h3v730h-3zM1162 1117h4v730h-4zM217 1117h949v3h-949zM217 1844h949v3h-949zM453 1117h4v13h-4zM453 1834h4v13h-4zM690 1117h3v13h-3zM690 1834h3v13h-3zM926 1117h3v13h-3zM926 1834h3v13h-3zM217 1662h13v4h-13zM1153 1662h13v4h-13zM217 1480h13v4h-13zM1153 1480h13v4h-13zM217 1299h13v3h-13zM1153 1299h13v3h-13z"/><g clip-path="url(#c2)"><path d="M218.59 1424.94L219.49 1372.81L220.39 1409.1L221.29 1385.71L222.2 1404.87L223.1 1380.26L224 1380.25L224.9 1387.64L225.8 1379.72L226.7 1389.06L227.6 1382.86L228.5 1367.66L229.41 1376.41L230.31 1397.59L231.21 1399.34L232.11 1392.52L233.01 1392.4L233.91 1388.77L234.81 1396.92L235.71 1381.75L236.62 1389.16L237.52 1385.25L238.42 1389.53L239.32 1382.19L240.22 1404.04L241.12 1370.52L242.02 1385.41L242.92 1384.16L243.83 1382.2L244.73 1376.51L245.63 1380.68L246.53 1386.7L247.43 1391.75L248.33 1409.41L249.23 1386.96L250.13 1393.32L251.04 1393.33L251.94 1360.5L252.84 1411.98L253.74 1388.85L254.64 1374.88L255.54 1377.91L256.44 1374.54L257.34 1404.82L258.25 1401.11L259.15 1382.02L260.05 1393.07L260.95 1368.81L261.85 1386.72L262.75 1387.11L263.65 1384.14L264.56 1392.75L265.46 1388.02L266.36 1397.6L267.26 1389.89L268.16 1395.28L269.06 1386.34L269.96 1406.54L270.86 1407.45L271.77 1383.87L272.67 1386.68L273.57 1401.05L274.47 1392.15L275.37 1402.07L276.27 1364.75L277.17 1408.28L278.07 1368.69L278.98 1399.33L279.88 1384.3L280.78 1392.55L281.68 1393.98L282.58 1378.06L283.48 1379.51L284.38 1392.86L285.28 1400.35L286.19 1364.32L287.09 1372.4L287.99 1387.65L288.89 1392.94L289.79 1385.81L290.69 1388.36L291.59 1374.89L292.49 1401.01L293.4 1389.09L294.3 1398.82L295.2 1373.55L296.1 1367.55L297 1390.44L297.9 1382.82L298.8 1372.34L299.7 1392.95L300.61 1400.61L301.51 1376.76L302.41 1383.21L303.31 1391.83L304.21 1371.67L305.11 1386.47L306.01 1410.83L306.92 1385.13L307.82 1390.04L308.72 1366.59L309.62 1389.52L310.52 1391.81L311.42 1384.03L312.32 1386.35L313.22 1406.32L314.13 1387.86L315.03 1393.27L315.93 1372.33L316.83 1360.3L317.73 1402.81L318.63 1400.97L319.53 1399.48L320.43 1397.24L321.34 1397.64L322.24 1388.65L323.14 1376.14L324.04 1405.02L324.94 1407.89L325.84 1411.56L326.74 1375.94L327.64 1373.26L328.55 1407.84L329.45 1409L330.35 1387.72L331.25 1376.08L332.15 1377.02L333.05 1386.95L333.95 1381.04L334.85 1385.33L335.76 1395.98L336.66 1366.22L337.56 1389.29L338.46 1402.72L339.36 1394.93L340.26 1407.91L341.16 1389.07L342.07 1376.02L342.97 1404.56L343.87 1375.65L344.77 1363.97L345.67 1384.7L346.57 1403.27L347.47 1399.58L348.37 1393.32L349.28 1404.77L350.18 1404.38L351.08 1392.41L351.98 1391.45L352.88 1381.95L353.78 1403.77L354.68 1366.64L355.58 1376.44L356.49 1378.5L357.39 1397.14L358.29 1368.24L359.19 1393.41L360.09 1367.32L360.99 1376.31L361.89 1400.11L362.79 1394.76L363.7 1366.64L364.6 1377.16L365.5 1391.14L366.4 1386.8L367.3 1386.86L368.2 1398.61L369.1 1391.68L370 1397.24L370.91 1394.45L371.81 1383.62L372.71 1400.84L373.61 1380.48L374.51 1387.93L375.41 1380.04L376.31 1378.5L377.21 1374.18L378.12 1381.66L379.02 1380.7L379.92 1391.44L380.82 1382.37L381.72 1400.16L382.62 1392.24L383.52 1380.2L384.43 1389.89L385.33 1383.87L386.23 1402.05L387.13 1372.71L388.03 1396.25L388.93 1384.48L389.83 1389.54L390.73 1377.97L391.64 1393.9L392.54 1401.37L393.44 1412.25L394.34 1392.98L395.24 1403.73L396.14 1382.79L397.04 1371.81L397.94 1416.22L398.85 1404.89L399.75 1385.52L400.65 1374.31L401.55 1385.56L402.45 1385.34L403.35 1383.14L404.25 1382.3L405.15 1369.35L406.06 1381.85L406.96 1404.31L407.86 1395L408.76 1386.73L409.66 1399.11L410.56 1392.43L411.46 1395.64L412.36 1397.77L413.27 1380.85L414.17 1393.99L415.07 1402.52L415.97 1397.95L416.87 1388.82L417.77 1363.64L418.67 1386.13L419.57 1371.26L420.48 1383.27L421.38 1415.37L422.28 1384.67L423.18 1399.62L424.08 1405.72L424.98 1402.36L425.88 1367.55L426.79 1408.46L427.69 1396.81L428.59 1375.2L429.49 1381.2L430.39 1410.07L431.29 1390.63L432.19 1395.56L433.09 1391.66L434 1380.14L434.9 1396.3L435.8 1393.18L436.7 1371.54L437.6 1411.71L438.5 1393.82L439.4 1383.58L440.3 1404.46L441.21 1396.97L442.11 1405.29L443.01 1387.41L443.91 1396.89L444.81 1379.73L445.71 1376.88L446.61 1388.74L447.51 1393.93L448.42 1386.14L449.32 1388.61L450.22 1404.13L451.12 1376.27L452.02 1386.57L452.92 1379.71L453.82 1405.89L454.72 1378.64L455.63 1363.67L456.53 1381.82L457.43 1406.98L458.33 1388.87L459.23 1390.04L460.13 1386.67L461.03 1392.18L461.93 1383.29L462.84 1394.99L463.74 1386.53L464.64 1397.73L465.54 1388.13L466.44 1377.21L467.34 1395.32L468.24 1381.22L469.15 1400.16L470.05 1393.88L470.95 1392.23L471.85 1374.16L472.75 1398.69L473.65 1374.5L474.55 1407.22L475.45 1391.29L476.36 1378.23L477.26 1380.88L478.16 1401.68L479.06 1404.29L479.96 1378.67L480.86 1404.76L481.76 1382.3L482.66 1395.73L483.57 1389.51L484.47 1361.13L485.37 1370.46L486.27 1379.13L487.17 1406.19L488.07 1385.48L488.97 1388.74L489.87 1390.62L490.78 1373.07L491.68 1410.38L492.58 1385.51L493.48 1387.86L494.38 1398.57L495.28 1368.31L496.18 1404.89L497.08 1389.07L497.99 1388.43L498.89 1416.19L499.79 1406.89L500.69 1401.27L501.59 1379.79L502.49 1561.4L503.39 1565.69L504.29 1570.02L505.2 1599.84L506.1 1570.32L507 1579.25L507.9 1558.65L508.8 1556.51L509.7 1545.61L510.6 1564.3L511.51 1563L512.41 1585.59L513.31 1572.01L514.21 1588.09L515.11 1562.01L516.01 1587.6L516.91 1575.61L517.81 1583.03L518.72 1578.74L519.62 1567.4L520.52 1579.91L521.42 1570.31L522.32 1585.29L523.22 1555.91L524.12 1580.9L525.02 1560.62L525.93 1546.84L526.83 1602.87L527.73 1585.17L528.63 1575.55L529.53 1558.69L530.43 1578.97L531.33 1568.38L532.23 1581.98L533.14 1566.14L534.04 1587.92L534.94 1562.78L535.84 1609.74L536.74 1596.24L537.64 1550.72L538.54 1570.94L539.44 1584.05L540.35 1546L541.25 1560.15L542.15 1559.19L543.05 1578.25L543.95 1565.43L544.85 1566.83L545.75 1593.45L546.65 1565.77L547.56 1575.34L548.46 1557.25L549.36 1557.01L550.26 1580.99L551.16 1580.51L552.06 1570.72L552.96 1565.02L553.87 1578.15L554.77 1574.5L555.67 1565.57L556.57 1567.88L557.47 1558.77L558.37 1570.16L559.27 1584.03L560.17 1594.85L561.08 1563.1L561.98 1577.22L562.88 1577.4L563.78 1576.68L564.68 1592.52L565.58 1577.94L566.48 1605.25L567.38 1578.09L568.29 1584.18L569.19 1550.42L570.09 1567.6L570.99 1575.77L571.89 1571.12L572.79 1564.11L573.69 1582.49L574.59 1575.98L575.5 1577.52L576.4 1542.39L577.3 1572.24L578.2 1597.48L579.1 1563.28L580 1541.11L580.9 1584.99L581.8 1530.05L582.71 1573.93L583.61 1560.75L584.51 1580.14L585.41 1576.5L586.31 1588.43L587.21 1586.27L588.11 1599.76L589.02 1558.97L589.92 1587.42L590.82 1568.57L591.72 1569.07L592.62 1581.23L593.52 1572.58L594.42 1574.35L595.32 1579.34L596.23 1572.57L597.13 1389.02L598.03 1402.34L598.93 1405.78L599.83 1400.22L600.73 1388.16L601.63 1372.46L602.53 1371.38L603.44 1385.76L604.34 1377.89L605.24 1388.15L606.14 1375.92L607.04 1388.09L607.94 1384.79L608.84 1393.23L609.74 1389.76L610.65 1366.04L611.55 1404.64L612.45 1389.66L613.35 1397.07L614.25 1377.73L615.15 1367.06L616.05 1393.6L616.95 1424.3L617.86 1382.03L618.76 1382.03L619.66 1410.75L620.56 1392.74L621.46 1390.56L622.36 1418.61L623.26 1381.3L624.16 1384.24L625.07 1386.75L625.97 1402.99L626.87 1398.64L627.77 1397.66L628.67 1383.76L629.57 1402.06L630.47 1371.44L631.38 1385.03L632.28 1417.03L633.18 1368.68L634.08 1387.79L634.98 1396.66L635.88 1388.5L636.78 1412.66L637.68 1387.4L638.59 1420.6L639.49 1402.62L640.39 1372.81L641.29 1373.98L642.19 1394.09L643.09 1401.94L643.99 1378.11L644.89 1390.45L645.8 1387.16L646.7 1381.96L647.6 1403.34L648.5 1379.87L649.4 1416.4L650.3 1371.47L651.2 1409.57L652.1 1397.74L653.01 1398.26L653.91 1380.71L654.81 1380.49L655.71 1385.36L656.61 1349.53L657.51 1383.99L658.41 1390.8L659.31 1413.93L660.22 1418.9L661.12 1418.85L662.02 1390.51L662.92 1392.78L663.82 1391.67L664.72 1387.09L665.62 1392.89L666.52 1402.51L667.43 1408.86L668.33 1413.84L669.23 1374.63L670.13 1378.51L671.03 1407.01L671.93 1393.41L672.83 1384.41L673.74 1369.87L674.64 1397.56L675.54 1387.77L676.44 1375.39L677.34 1411.89L678.24 1399.24L679.14 1390.49L680.04 1399.09L680.95 1363.34L681.85 1379.05L682.75 1387.53L683.65 1402.13L684.55 1379.07L685.45 1382.03L686.35 1396.52L687.25 1395.51L688.16 1408.49L689.06 1391.01L689.96 1379.1L690.86 1377.4L691.76 1566.25L692.66 1563.17L693.56 1581.01L694.46 1579.51L695.37 1558.38L696.27 1567.89L697.17 1583.62L698.07 1567.27L698.97 1563.11L699.87 1564.67L700.77 1572.24L701.67 1580.11L702.58 1568.57L703.48 1552.23L704.38 1571.75L705.28 1582.04L706.18 1569.34L707.08 1589.16L707.98 1570.73L708.88 1577.4L709.79 1561.55L710.69 1572.33L711.59 1560.4L712.49 1544.65L713.39 1576.38L714.29 1584.15L715.19 1567.85L716.1 1574.75L717 1571.86L717.9 1581.23L718.8 1566.65L719.7 1572.78L720.6 1600.85L721.5 1576.63L722.4 1569.46L723.31 1558.83L724.21 1580.93L725.11 1583.75L726.01 1559.21L726.91 1581.33L727.81 1572.35L728.71 1567.73L729.61 1564.4L730.52 1573.57L731.42 1587.65L732.32 1560.97L733.22 1579.13L734.12 1580.22L735.02 1548.47L735.92 1562.64L736.82 1587L737.73 1579.73L738.63 1576.77L739.53 1583.1L740.43 1597.77L741.33 1563.62L742.23 1563.95L743.13 1570.63L744.03 1578.74L744.94 1571.03L745.84 1565.69L746.74 1586.78L747.64 1577.87L748.54 1580.72L749.44 1564.97L750.34 1570.43L751.24 1590L752.15 1581.45L753.05 1551.56L753.95 1585.88L754.85 1571.83L755.75 1581.61L756.65 1558.09L757.55 1574.53L758.46 1579.2L759.36 1588.46L760.26 1576.8L761.16 1563.35L762.06 1565.31L762.96 1590.32L763.86 1554.21L764.76 1576.83L765.67 1586.94L766.57 1572.15L767.47 1581.54L768.37 1581.01L769.27 1581.68L770.17 1574.9L771.07 1580.03L771.97 1595.18L772.88 1567.24L773.78 1580.31L774.68 1558.82L775.58 1567.09L776.48 1566.08L777.38 1571.52L778.28 1557.59L779.18 1577.89L780.09 1586.22L780.99 1569.49L781.89 1607.81L782.79 1578.42L783.69 1571.13L784.59 1579.01L785.49 1558.1L786.39 1381.52L787.3 1388.87L788.2 1395.29L789.1 1376.61L790 1398.77L790.9 1395.49L791.8 1380.97L792.7 1382.86L793.6 1364.89L794.51 1393.01L795.41 1413.79L796.31 1382.07L797.21 1374.61L798.11 1392.37L799.01 1370.85L799.91 1368.09L800.82 1398.63L801.72 1396.32L802.62 1405.96L803.52 1383.55L804.42 1381.36L805.32 1382.78L806.22 1405.73L807.12 1399.86L808.03 1408.2L808.93 1410.45L809.83 1407.14L810.73 1410.08L811.63 1392.63L812.53 1385.07L813.43 1382.56L814.33 1390.62L815.24 1398.74L816.14 1390.5L817.04 1383.27L817.94 1394.06L818.84 1389.72L819.74 1394.19L820.64 1396.91L821.54 1389.96L822.45 1404.29L823.35 1377.29L824.25 1409.86L825.15 1384.65L826.05 1407.36L826.95 1371.59L827.85 1379.58L828.75 1400.51L829.66 1396L830.56 1404.45L831.46 1391.13L832.36 1385.29L833.26 1358.6L834.16 1407.41L835.06 1374.97L835.97 1397.66L836.87 1386.98L837.77 1379.48L838.67 1383.65L839.57 1385.15L840.47 1392.86L841.37 1390.52L842.27 1388.51L843.18 1375.5L844.08 1408.67L844.98 1396.53L845.88 1405.92L846.78 1402.4L847.68 1400.34L848.58 1376.76L849.48 1363.76L850.39 1373.57L851.29 1405.14L852.19 1389.48L853.09 1404.53L853.99 1348.62L854.89 1374.62L855.79 1383.11L856.69 1379.59L857.6 1392.25L858.5 1414.88L859.4 1353.16L860.3 1391.64L861.2 1383.28L862.1 1374.63L863 1394.74L863.9 1389.49L864.81 1387.24L865.71 1377.21L866.61 1391.29L867.51 1404.01L868.41 1376.98L869.31 1385.31L870.21 1385.67L871.11 1406.21L872.02 1390.51L872.92 1411.76L873.82 1415.33L874.72 1393.36L875.62 1395.82L876.52 1383.37L877.42 1372.52L878.33 1390.85L879.23 1368.22L880.13 1397.72L881.03 1380.95L881.93 1406.15L882.83 1388.85L883.73 1394.34L884.63 1393.01L885.54 1383.11L886.44 1413.82L887.34 1388.98L888.24 1400.5L889.14 1388.97L890.04 1385.54L890.94 1395.02L891.84 1395.04L892.75 1404.72L893.65 1383.61L894.55 1398.76L895.45 1384.91L896.35 1408.1L897.25 1373.45L898.15 1403.09L899.05 1376.07L899.96 1395.98L900.86 1383.65L901.76 1392.2L902.66 1382L903.56 1390.36L904.46 1374.67L905.36 1382.09L906.26 1381.97L907.17 1369.72L908.07 1399.07L908.97 1374.28L909.87 1389.53L910.77 1408.75L911.67 1384.49L912.57 1392.95L913.47 1369.5L914.38 1396.51L915.28 1389.81L916.18 1387.51L917.08 1414.04L917.98 1384.12L918.88 1402.74L919.78 1372.97L920.69 1369.77L921.59 1390.52L922.49 1410.06L923.39 1388.16L924.29 1388.23L925.19 1381.49L926.09 1394.09L926.99 1405.17L927.9 1392.18L928.8 1401.89L929.7 1368.46L930.6 1399.18L931.5 1398.5L932.4 1391L933.3 1405.79L934.2 1395.94L935.11 1392.09L936.01 1396.47L936.91 1393.53L937.81 1375.03L938.71 1385.04L939.61 1406.99L940.51 1395.74L941.41 1381.17L942.32 1398.48L943.22 1389.4L944.12 1390.77L945.02 1383.87L945.92 1392.63L946.82 1392.16L947.72 1401.06L948.62 1385.96L949.53 1401.91L950.43 1368.94L951.33 1390.66L952.23 1393.19L953.13 1380.65L954.03 1391.47L954.93 1389.32L955.83 1391.06L956.74 1399.4L957.64 1401.83L958.54 1399.07L959.44 1376.4L960.34 1398.19L961.24 1395.44L962.14 1395.98L963.05 1381.78L963.95 1365.89L964.85 1401.86L965.75 1383.62L966.65 1388.94L967.55 1394.16L968.45 1384.16L969.35 1406.14L970.26 1380.11L971.16 1387.68L972.06 1402.76L972.96 1370.69L973.86 1379.89L974.76 1376.03L975.66 1591.95L976.56 1577.3L977.47 1580.41L978.37 1566.2L979.27 1557.19L980.17 1597.52L981.07 1573.7L981.97 1575.5L982.87 1561.59L983.77 1574.45L984.68 1589.68L985.58 1576.35L986.48 1586.76L987.38 1583.56L988.28 1573.43L989.18 1579.89L990.08 1570.5L990.98 1592.7L991.89 1545.26L992.79 1558.36L993.69 1565.08L994.59 1589.93L995.49 1600.62L996.39 1584.62L997.29 1576.82L998.19 1546.37L999.1 1557.8L1000 1580.44L1000.9 1559.02L1001.8 1558.82L1002.7 1573.75L1003.6 1558.91L1004.5 1569.87L1005.41 1582.04L1006.31 1588.46L1007.21 1575.47L1008.11 1561.62L1009.01 1590.69L1009.91 1593.85L1010.81 1567.15L1011.71 1607.52L1012.62 1551.43L1013.52 1579.38L1014.42 1564.89L1015.32 1550.97L1016.22 1591.87L1017.12 1586.93L1018.02 1546.24L1018.92 1577.46L1019.83 1575.53L1020.73 1571.14L1021.63 1560.89L1022.53 1557.57L1023.43 1572.59L1024.33 1578.09L1025.23 1574.4L1026.13 1570.2L1027.04 1557.76L1027.94 1572.27L1028.84 1551.46L1029.74 1584.55L1030.64 1567.37L1031.54 1552.25L1032.44 1558.03L1033.34 1569.84L1034.25 1584.85L1035.15 1582.75L1036.05 1575.88L1036.95 1570.11L1037.85 1577.03L1038.75 1591.94L1039.65 1583.07L1040.55 1567.55L1041.46 1563.63L1042.36 1591.24L1043.26 1578.45L1044.16 1594.63L1045.06 1580.91L1045.96 1530.17L1046.86 1573.16L1047.77 1578.21L1048.67 1581.22L1049.57 1588.9L1050.47 1596.91L1051.37 1574.47L1052.27 1577.36L1053.17 1555.69L1054.07 1594.16L1054.98 1568.56L1055.88 1557.37L1056.78 1598.13L1057.68 1565.82L1058.58 1593.85L1059.48 1567.49L1060.38 1555.71L1061.28 1573.99L1062.19 1570.4L1063.09 1582.52L1063.99 1570.37L1064.89 1559.96L1065.79 1576.2L1066.69 1575.67L1067.59 1569.12L1068.49 1563.78L1069.4 1594.16L1070.3 1573.2L1071.2 1582.41L1072.1 1567.81L1073 1561.14L1073.9 1570.09L1074.8 1557.98L1075.7 1586.19L1076.61 1578.99L1077.51 1586.17L1078.41 1573.21L1079.31 1572.75L1080.21 1576.39L1081.11 1588.92L1082.01 1574.89L1082.92 1579.34L1083.82 1566.47L1084.72 1577.27L1085.62 1559.56L1086.52 1571.08L1087.42 1596.9L1088.32 1576.08L1089.22 1591.61L1090.13 1561.96L1091.03 1556.21L1091.93 1574.27L1092.83 1568.45L1093.73 1591.81L1094.63 1601.74L1095.53 1580.8L1096.43 1577.09L1097.34 1592.64L1098.24 1572.81L1099.14 1570.06L1100.04 1565.98L1100.94 1554.77L1101.84 1563.92L1102.74 1578.46L1103.64 1572.63L1104.55 1566.5L1105.45 1586.85L1106.35 1557.51L1107.25 1562.78L1108.15 1576.72L1109.05 1581.8L1109.95 1526.87L1110.85 1563.52L1111.76 1562.29L1112.66 1551.67L1113.56 1561.78L1114.46 1571.31L1115.36 1565.2L1116.26 1585.2L1117.16 1565.05L1118.06 1592.93L1118.97 1568.65L1119.87 1566.99L1120.77 1593.17L1121.67 1550.14L1122.57 1588.1L1123.47 1560.94L1124.37 1580.4L1125.28 1570L1126.18 1581.99L1127.08 1543.01L1127.98 1561.07L1128.88 1551.43L1129.78 1564.12L1130.68 1565.18L1131.58 1571.92L1132.49 1576.73L1133.39 1566.24L1134.29 1571.77L1135.19 1575.62L1136.09 1590.77L1136.99 1577.53L1137.89 1566.24L1138.79 1579.54L1139.7 1569.41L1140.6 1575.46L1141.5 1586.47L1142.4 1584.88L1143.3 1582.86L1144.2 1577.28L1145.1 1576.92L1146 1559.83L1146.91 1587.12L1147.81 1598.99L1148.71 1565.18L1149.61 1579.31L1150.51 1575.13L1151.41 1542.07L1152.31 1555.52L1153.21 1566.35L1154.12 1561.92L1155.02 1572.15L1155.92 1561.75L1156.82 1581.19L1157.72 1582.45L1158.62 1579.4L1159.52 1554.04L1160.42 1554.32L1161.33 1581.12L1162.23 1559.21L1163.13 1575.57L1164.03 1560.27L1164.03 1427.67L1164.03 1651.17" fill="none" stroke="#0000ff" stroke-width="3.4" stroke-linejoin="round"/></g></g>
<g shape-rendering="crispEdges"><path fill="#dfdfdf" d="M1699 1117h3v730h-3zM1936 1117h4v730h-4zM2173 1117h4v730h-4zM1462 1723h952v3h-952zM1462 1602h952v3h-952zM1462 1480h952v4h-952zM1462 1359h952v4h-952zM1462 1238h952v4h-952z"/><path fill="#262626" d="M1462 1117h3v730h-3zM2411 1117h3v730h-3zM1462 1117h952v3h-952zM1462 1844h952v3h-952zM1699 1117h3v13h-3zM1699 1834h3v13h-3zM1936 1117h4v13h-4zM1936 1834h4v13h-4zM2173 1117h4v13h-4zM2173 1834h4v13h-4zM1462 1723h13v3h-13zM2401 1723h13v3h-13zM1462 1602h13v3h-13zM2401 1602h13v3h-13zM1462 1480h13v4h-13zM2401 1480h13v4h-13zM1462 1359h13v4h-13zM2401 1359h13v4h-13zM1462 1238h13v4h-13zM2401 1238h13v4h-13z"/><g clip-path="url(#c3)"><g fill="none" stroke="#0000ff" stroke-linecap="round"><path stroke-width="11" d="M1443.4 1239.5H1748"/><path stroke-width="10" d="M1748 1239.5V1724.5"/><path stroke-width="11" d="M1748 1724.5H1843"/><path stroke-width="10" d="M1843 1724.5V1239.5"/><path stroke-width="11" d="M1843 1239.5H1937.5"/><path stroke-width="11" d="M1937.5 1239.5V1724.5"/><path stroke-width="11" d="M1937.5 1724.5H2032.5"/><path stroke-width="11" d="M2032.5 1724.5V1239.5"/><path stroke-width="11" d="M2032.5 1239.5H2222.5"/><path stroke-width="11" d="M2222.5 1239.5V1724.5"/><path stroke-width="11" d="M2222.5 1724.5H2432.32"/></g></g></g>
<g filter="url(#hard)">
<g font-size="53" fill="#262626" letter-spacing="0.4"><g text-anchor="middle"><text transform="translate(217.09 913.89) scale(1 1.04)">0</text><text transform="translate(453.45 913.89) scale(1 1.04)">50</text><text transform="translate(689.81 913.89) scale(1 1.04)">100</text><text transform="translate(926.17 913.89) scale(1 1.04)">150</text><text transform="translate(1162.53 913.89) scale(1 1.04)">200</text></g><g text-anchor="end"><text transform="translate(197.39 858.89) scale(1 1.04)">-<tspan dx="-0.8">1.5</tspan></text><text transform="translate(197.39 737.75) scale(1 1.04)">-<tspan dx="-0.8">1</tspan></text><text transform="translate(197.39 616.6) scale(1 1.04)">-<tspan dx="-0.8">0.5</tspan></text><text transform="translate(194.99 495.46) scale(1 1.04)">0</text><text transform="translate(194.99 374.32) scale(1 1.04)">0.5</text><text transform="translate(194.99 253.17) scale(1 1.04)">1</text><text transform="translate(194.99 132.03) scale(1 1.04)">1.5</text></g></g><g font-size="57" fill="#000"><text transform="translate(426.18 85.6) scale(0.9840 1)">Raw Navigation Data</text><text transform="translate(581.02 993.1) scale(0.9825 1)">time(ms)</text><text transform="translate(76.3 598.5) rotate(-90) scale(0.9773 1)">Amplitude</text></g>
<g font-size="53" fill="#262626" letter-spacing="0.4"><g text-anchor="middle"><text transform="translate(1461.9 913.89) scale(1 1.04)">0</text><text transform="translate(1699.13 913.89) scale(1 1.04)">50</text><text transform="translate(1936.36 913.89) scale(1 1.04)">100</text><text transform="translate(2173.59 913.89) scale(1 1.04)">150</text><text transform="translate(2410.82 913.89) scale(1 1.04)">200</text></g><g text-anchor="end"><text transform="translate(1442.2 858.89) scale(1 1.04)">-<tspan dx="-0.8">30</tspan></text><text transform="translate(1442.2 737.75) scale(1 1.04)">-<tspan dx="-0.8">20</tspan></text><text transform="translate(1442.2 616.6) scale(1 1.04)">-<tspan dx="-0.8">10</tspan></text><text transform="translate(1439.8 495.46) scale(1 1.04)">0</text><text transform="translate(1439.8 374.32) scale(1 1.04)">10</text><text transform="translate(1439.8 253.17) scale(1 1.04)">20</text><text transform="translate(1439.8 132.03) scale(1 1.04)">30</text></g></g><g font-size="57" fill="#000"><text transform="translate(1665.32 85.6) scale(0.9780 1)">the de-expanded data</text><text transform="translate(1831.01 988.9) scale(0.9853 1)">time(ms)</text><text transform="translate(1336.4 598.9) rotate(-90) scale(0.9789 1)">Amplitude</text></g>
<g font-size="53" fill="#262626" letter-spacing="0.4"><g text-anchor="middle"><text transform="translate(217.09 1921.21) scale(1 1.04)">0</text><text transform="translate(453.45 1921.21) scale(1 1.04)">50</text><text transform="translate(689.81 1921.21) scale(1 1.04)">100</text><text transform="translate(926.17 1921.21) scale(1 1.04)">150</text><text transform="translate(1162.53 1921.21) scale(1 1.04)">200</text></g><g text-anchor="end"><text transform="translate(197.39 1866.21) scale(1 1.04)">-<tspan dx="-0.8">40</tspan></text><text transform="translate(197.39 1684.49) scale(1 1.04)">-<tspan dx="-0.8">20</tspan></text><text transform="translate(194.99 1502.78) scale(1 1.04)">0</text><text transform="translate(194.99 1321.06) scale(1 1.04)">20</text><text transform="translate(194.99 1139.35) scale(1 1.04)">40</text></g></g><g font-size="57" fill="#000"><text transform="translate(294.73 1092.7) scale(0.9867 1)">de-expanged envelope average</text><text transform="translate(581.02 1997.2) scale(0.9825 1)">time(ms)</text><text transform="translate(91.2 1606.4) rotate(-90) scale(0.9809 1)">Amplitude</text></g>
<g font-size="53" fill="#262626" letter-spacing="0.4"><g text-anchor="middle"><text transform="translate(1461.9 1921.21) scale(1 1.04)">0</text><text transform="translate(1699.13 1921.21) scale(1 1.04)">50</text><text transform="translate(1936.36 1921.21) scale(1 1.04)">100</text><text transform="translate(2173.59 1921.21) scale(1 1.04)">150</text><text transform="translate(2410.82 1921.21) scale(1 1.04)">200</text></g><g text-anchor="end"><text transform="translate(1442.2 1866.21) scale(1 1.04)">-<tspan dx="-0.8">1.5</tspan></text><text transform="translate(1442.2 1745.07) scale(1 1.04)">-<tspan dx="-0.8">1</tspan></text><text transform="translate(1442.2 1623.92) scale(1 1.04)">-<tspan dx="-0.8">0.5</tspan></text><text transform="translate(1439.8 1502.78) scale(1 1.04)">0</text><text transform="translate(1439.8 1381.64) scale(1 1.04)">0.5</text><text transform="translate(1439.8 1260.49) scale(1 1.04)">1</text><text transform="translate(1439.8 1139.35) scale(1 1.04)">1.5</text></g></g><g font-size="57" fill="#000"><text transform="translate(1625.99 1092.7) scale(0.9830 1)">Restored navigation data</text><text transform="translate(1827.12 2000.2) scale(0.9848 1)">time(ms)</text><text transform="translate(1321.2 1606.4) rotate(-90) scale(0.9809 1)">Amplitude</text></g>
</g>
</svg>
</body>
</html>
